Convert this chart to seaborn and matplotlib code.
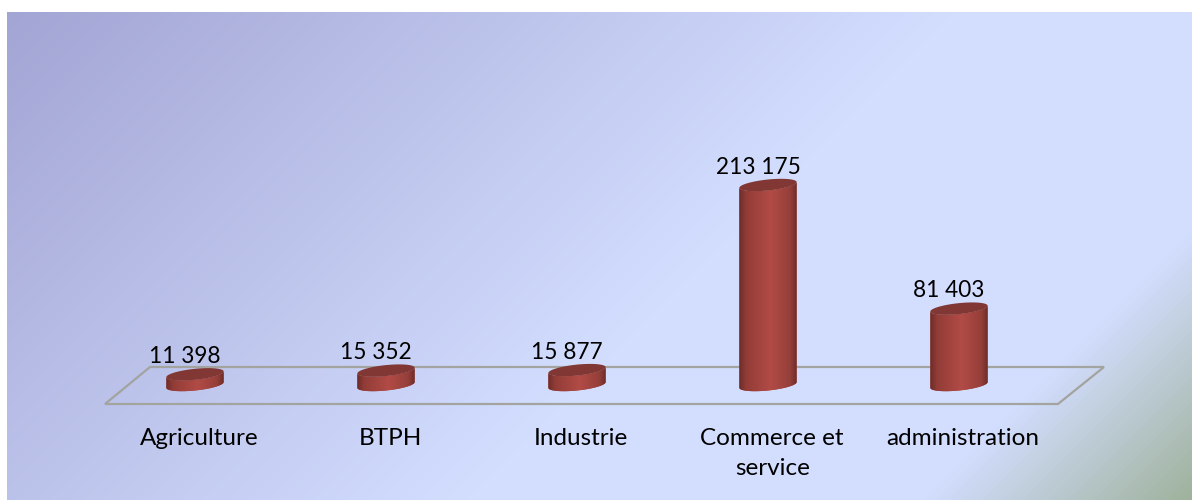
import numpy as np
import pandas as pd
import matplotlib
matplotlib.use("Agg")
import matplotlib.pyplot as plt
import seaborn as sns
from matplotlib.colors import LinearSegmentedColormap
from matplotlib.patches import PathPatch
from matplotlib.path import Path
from matplotlib.transforms import ScaledTranslation

categories = ["Agriculture", "BTPH", "Industrie", "Commerce et\nservice", "administration"]
values = [11398, 15352, 15877, 213175, 81403]

W, H = 1192, 500

sns.set_theme(style="white")
plt.rcParams["font.family"] = ["Lato", "DejaVu Sans"]

fig = plt.figure(figsize=(W / 100, H / 100), dpi=100, facecolor="white")


# Background panel, diagonal gradient
bg = fig.add_axes([7 / W, 0, (W - 7) / W, 488 / H], zorder=0)
xx, yy = np.meshgrid(np.arange(7, W), np.arange(12, H))
bg_cmap = LinearSegmentedColormap.from_list(
    "panel",
    [(0, "#a2a4d3"), (0.57, "#d3deff"), (0.84, "#d3deff"), (1, "#9fb29c")],
)
bg.imshow((xx + yy) / (W + H), cmap=bg_cmap, vmin=0, vmax=1, aspect="auto")
bg.axis("off")

# Main axes: y=0 sits at pixel row 385, 200 px for the largest bar
y_max = 250000
axis_h = 200 * y_max / max(values)
ax = fig.add_axes([99.5 / W, (H - 385) / H, 955 / W, axis_h / H], zorder=1)
ax.patch.set_alpha(0)

df = pd.DataFrame({"secteur": categories, "valeur": values})
sns.barplot(data=df, x="secteur", y="valeur", width=0.3, color="#a8443f", ax=ax, zorder=2)
ax.set_ylim(0, y_max)
ax.set_xlim(-0.5, len(values) - 0.5)
ax.set_xlabel("")
ax.set_ylabel("")
ax.set_yticks([])
sns.despine(ax=ax, left=True, bottom=True)

ax.tick_params(axis="x", length=0, pad=31, labelsize=17.5, labelcolor="black")
shift = ScaledTranslation(3 / 72, 0, fig.dpi_scale_trans)
for lab in ax.get_xticklabels():
    lab.set_transform(lab.get_transform() + shift)
    lab.set_linespacing(1.5)


def to_data(px_pts):
    # pixel coords, top-left origin -> data coords
    pts = np.asarray(px_pts, dtype=float)
    pts = np.column_stack([pts[:, 0], H - pts[:, 1]])
    return ax.transData.inverted().transform(pts)


# Floor, drawn as a parallelogram under the bars
floor = to_data([(105, 404), (150, 367), (1104, 367), (1058, 404), (105, 404)])
ax.add_patch(PathPatch(Path(floor, closed=True), fill=False, edgecolor="#a3a3a0",
                       lw=1.6, clip_on=False, zorder=1))

shade = LinearSegmentedColormap.from_list(
    "cyl", [(0, "#6c2c28"), (0.12, "#923c37"), (0.55, "#b24b46"), (0.88, "#963f3a"), (1, "#6e2d29")]
)
ramp = np.linspace(0, 1, 128).reshape(1, -1)
ry, tilt = 5.5, 0.1
t = np.linspace(0, 2 * np.pi, 80)

for bar, val in zip(list(ax.patches), values):
    left, right = bar.get_x(), bar.get_x() + bar.get_width()
    (px_l, _), (px_r, _) = ax.transData.transform([(left, 0), (right, 0)])
    cx = (px_l + px_r) / 2
    rx = (px_r - px_l) / 2
    base_row = H - ax.transData.transform((0, 0))[1]
    top_row = H - ax.transData.transform((0, val))[1]

    # skewed ellipses so that the right side sits a bit higher
    def ring(row, ts):
        dx = rx * np.cos(ts)
        return np.column_stack([cx + dx, row + ry * np.sin(ts) - tilt * dx])

    lower = ring(base_row, np.linspace(np.pi, 0, 40))
    upper = ring(top_row, np.linspace(0, np.pi, 40))
    body = to_data(np.vstack([lower, upper, lower[:1]]))
    body_patch = PathPatch(Path(body, closed=True), facecolor="#a8443f", edgecolor="none",
                           clip_on=False, zorder=3)
    ax.add_patch(body_patch)
    bar.set_visible(False)

    low = to_data([(cx, base_row + 20)])[0, 1]
    high = to_data([(cx, top_row - 20)])[0, 1]
    im = ax.imshow(ramp, cmap=shade, extent=(left, right, low, high), aspect="auto", zorder=3.5)
    im.set_clip_path(body_patch)
    im.set_clip_box(fig.bbox)  # the image has to run below y=0 too

    cap = to_data(ring(top_row, t))
    ax.add_patch(PathPatch(Path(cap, closed=True), facecolor="#813733", edgecolor="none",
                           clip_on=False, zorder=4))

    ax.annotate(f"{val:,}".replace(",", " "), xy=(bar.get_x() + bar.get_width() / 2, val),
                xytext=(-10 * 0.72, 18 * 0.72), textcoords="offset points",
                ha="center", va="center", fontsize=16.3, color="black", zorder=5)

ax.set_ylim(0, y_max)
ax.set_xlim(-0.5, len(values) - 0.5)

fig.savefig("out.png", dpi=100, facecolor="white")
